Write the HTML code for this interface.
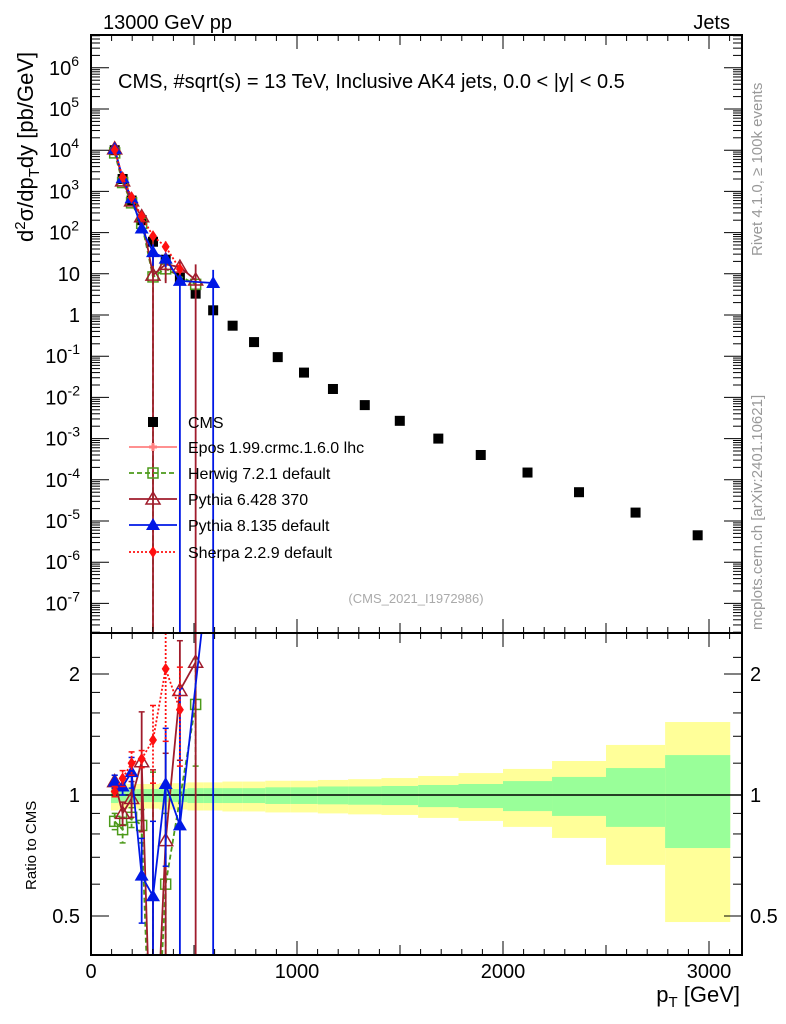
<!DOCTYPE html>
<html><head><meta charset="utf-8"><style>
html,body{margin:0;padding:0;background:#fff;overflow:hidden;width:786px;height:1024px;}
svg{display:block;font-family:"Liberation Sans",sans-serif;}
</style></head><body>
<svg id="c" width="786" height="1024" viewBox="0 0 786 1024" xmlns="http://www.w3.org/2000/svg" overflow="hidden">
<text x="103" y="29" font-size="20">13000 GeV pp</text>
<text x="730" y="29" font-size="20" text-anchor="end">Jets</text>
<text x="118" y="88" font-size="20">CMS, #sqrt(s) = 13 TeV, Inclusive AK4 jets, 0.0 &lt; |y| &lt; 0.5</text>
<text transform="translate(762,256) rotate(-90)" font-size="15" fill="#999">Rivet 4.1.0, ≥ 100k events</text>
<text transform="translate(762,630) rotate(-90)" font-size="15" fill="#999">mcplots.cern.ch [arXiv:2401.10621]</text>
<text x="416" y="603" font-size="13" fill="#aaa" text-anchor="middle">(CMS_2021_I1972986)</text>
<text transform="translate(33,242) rotate(-90)" font-size="22">d<tspan font-size="15" dy="-8">2</tspan><tspan dy="8">σ/dp</tspan><tspan font-size="15" dy="6">T</tspan><tspan dy="-6">dy [pb/GeV]</tspan></text>
<text transform="translate(36,890) rotate(-90)" font-size="15">Ratio to CMS</text>
<text x="740" y="1002" font-size="22" text-anchor="end">p<tspan font-size="15" dy="5">T</tspan><tspan dy="-5"> [GeV]</tspan></text>
<g id="bands"></g><g id="grid"></g><g id="marks"></g><g id="axes"></g><g id="legend"></g>
</svg>
<script>
const NS='http://www.w3.org/2000/svg';
const edges=[97,133,174,220,272,330,395,468,548,638,737,846,967,1101,1248,1410,1588,1784,2000,2238,2500,2787,3103];
const cmsValues=[1.0e4,2.0e3,6.0e2,2.0e2,60,22,8,3.3,1.3,0.55,0.22,0.095,0.04,0.016,0.0065,0.0027,0.001,0.0004,0.00015,5e-5,1.6e-5,4.5e-6];
const bandYellowHi=[1.075,1.07,1.065,1.065,1.065,1.07,1.07,1.075,1.075,1.08,1.08,1.085,1.085,1.09,1.095,1.102,1.115,1.134,1.161,1.215,1.332,1.519];
const bandYellowLo=[0.915,0.92,0.925,0.925,0.925,0.92,0.92,0.915,0.915,0.91,0.91,0.905,0.905,0.90,0.895,0.892,0.877,0.862,0.833,0.782,0.670,0.483];
const bandGreenHi=[1.04,1.035,1.035,1.035,1.035,1.035,1.035,1.04,1.04,1.04,1.04,1.045,1.045,1.05,1.05,1.053,1.059,1.065,1.083,1.109,1.167,1.257];
const bandGreenLo=[0.955,0.96,0.96,0.96,0.96,0.96,0.96,0.955,0.955,0.955,0.955,0.95,0.95,0.948,0.946,0.944,0.933,0.928,0.912,0.887,0.833,0.738];
const herwigRatio=[0.86,0.82,0.88,0.84,0.14,0.60,null,1.68,null];
const herwigErr=[0.04,0.06,0.05,0.08,1,0.3,null,0.5,null];
const py6Ratio=[1.08,0.90,0.98,1.21,0.155,0.77,1.82,2.14,null];
const py6Err=[0.04,0.06,0.1,0.4,1,0.5,0.6,3,null];
const py8Ratio=[1.08,1.05,1.14,0.63,0.56,1.065,0.84,null,4.6];
const py8Err=[0.04,0.05,0.1,0.15,0.3,0.4,1,null,5];
const sherpaRatio=[1.02,1.10,1.20,1.23,1.37,2.06,1.63,null,null];
const sherpaErr=[0.03,0.05,0.08,0.06,0.3,0.7,0.45,null,null];
const xTicks=[0,1000,2000,3000];
const ratioTicks=[0.5,1,2];

const X0=91,X1=742,UT=35,UB=633,LT=633,LB=955;
const xs=v=>X0+v*0.206;
const yu=v=>315-41.2*Math.log10(v);
const yr=r=>795-121*Math.log2(r);
const clampU=y=>Math.max(UT,Math.min(UB,y));
const clampL=y=>Math.max(LT,Math.min(LB,y));
function el(tag,attrs,parent){const e=document.createElementNS(NS,tag);for(const k in attrs)e.setAttribute(k,attrs[k]);parent.appendChild(e);return e;}
const G=id=>document.getElementById(id);
const bands=G('bands'),marks=G('marks'),axes=G('axes'),leg=G('legend');

for(let i=0;i<cmsValues.length;i++){
  const x=xs(edges[i]),w=xs(edges[i+1])-x;
  let r=el('rect',{x:x,y:yr(bandYellowHi[i]),width:w,height:yr(bandYellowLo[i])-yr(bandYellowHi[i]),fill:'#ffff99'},bands);
  
  
  r=el('rect',{x:x,y:yr(bandGreenHi[i]),width:w,height:yr(bandGreenLo[i])-yr(bandGreenHi[i]),fill:'#99ff99'},bands);
  
  
}
let one=el('line',{x1:X0,x2:X1,y1:yr(1),y2:yr(1),stroke:'#000','stroke-width':1.5},bands);



const centers=cmsValues.map((v,i)=>(edges[i]+edges[i+1])/2);

function marker(kind,x,y,col,parent){
  let m;
  if(kind==='sq') m=el('rect',{x:x-5,y:y-5,width:10,height:10,fill:'#000'},parent);
  else if(kind==='osq') m=el('rect',{x:x-5,y:y-5,width:10,height:10,fill:'none',stroke:col,'stroke-width':1.5},parent);
  else if(kind==='otri') m=el('polygon',{points:`${x},${y-7} ${x-7},${y+5} ${x+7},${y+5}`,fill:'none',stroke:col,'stroke-width':1.5},parent);
  else if(kind==='tri') m=el('polygon',{points:`${x},${y-7} ${x-7},${y+5} ${x+7},${y+5}`,fill:col},parent);
  else if(kind==='dia') m=el('polygon',{points:`${x},${y-6} ${x-4},${y} ${x},${y+6} ${x+4},${y}`,fill:col},parent);
  else if(kind==='cross') m=el('path',{d:`M${x-4} ${y}H${x+4}M${x} ${y-4}V${y+4}`,stroke:col,'stroke-width':3},parent);
  return m;
}

for(let i=0;i<cmsValues.length;i++){
  const m=marker('sq',xs(centers[i]),yu(cmsValues[i]),'#000',marks);
  
  
}

const series=[
  {name:'herwig',ratio:herwigRatio,err:herwigErr,col:'#4c9a1a',kind:'osq',dash:'5,3'},
  {name:'pythia6',ratio:py6Ratio,err:py6Err,col:'#a01c2c',kind:'otri',dash:''},
  {name:'pythia8',ratio:py8Ratio,err:py8Err,col:'#0018e6',kind:'tri',dash:''},
  {name:'sherpa',ratio:sherpaRatio,err:sherpaErr,col:'#ff1010',kind:'dia',dash:'2,2'}
];
for(const s of series){
  const gU=el('g',{},marks),gL=el('g',{},marks);
  
  
  
  
  const cu=el('clipPath',{id:'cu'+s.name},gU);el('rect',{x:X0,y:UT,width:X1-X0,height:UB-UT},cu);
  const cl=el('clipPath',{id:'cl'+s.name},gL);el('rect',{x:X0,y:LT,width:X1-X0,height:LB-LT},cl);
  const iu=el('g',{'clip-path':`url(#cu${s.name})`},gU),il=el('g',{'clip-path':`url(#cl${s.name})`},gL);
  let pu=[],pl=[];
  s.ratio.forEach((r,i)=>{
    if(r==null)return;
    const x=xs(centers[i]),v=cmsValues[i]*r;
    pu.push(x+','+yu(v));pl.push(x+','+yr(r));
  });
  el('polyline',{points:pu.join(' '),fill:'none',stroke:s.col,'stroke-width':1.8,'stroke-dasharray':s.dash},iu);
  el('polyline',{points:pl.join(' '),fill:'none',stroke:s.col,'stroke-width':1.8,'stroke-dasharray':s.dash},il);
  s.ratio.forEach((r,i)=>{
    if(r==null)return;
    const x=xs(centers[i]),e=s.err[i],v=cmsValues[i]*r;
    const hi=r+e,lo=r-e;
    const yuh=yu(cmsValues[i]*hi),yul=lo>0?yu(cmsValues[i]*lo):UB;
    const yrh=yr(hi),yrl=lo>0?yr(lo):LB;
    el('line',{x1:x,x2:x,y1:clampU(yuh),y2:Math.min(UB,yul),stroke:s.col,'stroke-width':1.8,'stroke-dasharray':s.dash},iu);
    el('line',{x1:x,x2:x,y1:clampL(yrh),y2:Math.min(LB,yrl),stroke:s.col,'stroke-width':1.8,'stroke-dasharray':s.dash},il);
    [yrh,yrl].forEach(yy=>{if(yy>LT&&yy<LB)el('line',{x1:x-3,x2:x+3,y1:yy,y2:yy,stroke:s.col,'stroke-width':1.5},il);});
    const mu=marker(s.kind,x,yu(v),s.col,iu);
    
    
    const ml=marker(s.kind,x,yr(r),s.col,il);
    
    
  });
}

for(const [t,b,n] of [[UT,UB,'main-frame'],[LT,LB,'ratio-frame']]){
  const r=el('rect',{x:X0,y:t,width:X1-X0,height:b-t,fill:'none',stroke:'#000','stroke-width':2},axes);
  
  
}
for(let v=0;v<=3100;v+=100){
  const x=xs(v),len=v%1000===0?14:(v%500===0?10:6);
  for(const yb of [UB,LB]) el('line',{x1:x,x2:x,y1:yb,y2:yb-len,stroke:'#000','stroke-width':1},axes);
  for(const yt of [UT,LT]) el('line',{x1:x,x2:x,y1:yt,y2:yt+len,stroke:'#000','stroke-width':1},axes);
}
xTicks.forEach(v=>{
  const t=el('text',{x:xs(v),y:978,'font-size':20,'text-anchor':'middle'},axes);t.textContent=v;
  
  
});
for(let d=-8;d<=6;d++){
  for(let k=1;k<10;k++){
    const y=yu(k*Math.pow(10,d));if(y<UT||y>UB)continue;
    const len=k===1?18:9;
    el('line',{x1:X0,x2:X0+len,y1:y,y2:y,stroke:'#000','stroke-width':1},axes);
    el('line',{x1:X1,x2:X1-len,y1:y,y2:y,stroke:'#000','stroke-width':1},axes);
  }
  const y=yu(Math.pow(10,d));if(y<UT||y>UB)continue;
  const t=el('text',{x:80,y:y+7,'font-size':20,'text-anchor':'end'},axes);
  
  
  if(d===0)t.textContent='1';else if(d===1)t.textContent='10';
  else{t.setAttribute('x',d<0?80:79);t.textContent='10';const s=el('tspan',{'font-size':14,dy:-9},t);s.textContent=d;}
}
const minor=[0.4,0.6,0.7,0.8,0.9,1.2,1.4,1.6,1.8,2.2];
minor.forEach(r=>{const y=yr(r);if(y<LT||y>LB)return;
  el('line',{x1:X0,x2:X0+9,y1:y,y2:y,stroke:'#000'},axes);el('line',{x1:X1,x2:X1-9,y1:y,y2:y,stroke:'#000'},axes);});
ratioTicks.forEach(r=>{const y=yr(r);
  el('line',{x1:X0,x2:X0+18,y1:y,y2:y,stroke:'#000'},axes);el('line',{x1:X1,x2:X1-18,y1:y,y2:y,stroke:'#000'},axes);
  let t=el('text',{x:80,y:y+7,'font-size':20,'text-anchor':'end'},axes);t.textContent=r;
  
  
  t=el('text',{x:750,y:y+7,'font-size':20},axes);t.textContent=r;
  
  
});
const legItems=[['CMS','sq','#000',''],['Epos 1.99.crmc.1.6.0 lhc','cross','#ff8080',''],['Herwig 7.2.1 default','osq','#4c9a1a','5,3'],['Pythia 6.428 370','otri','#a01c2c',''],['Pythia 8.135 default','tri','#0018e6',''],['Sherpa 2.2.9 default','dia','#ff1010','2,2']];
const legY=[422,447,473,499,525,552];
legItems.forEach((it,i)=>{
  const g=el('g',{},leg);
  
  
  const y=legY[i];
  if(i>0)el('line',{x1:129,x2:177,y1:y,y2:y,stroke:it[2],'stroke-width':1.8,'stroke-dasharray':it[3]},g);
  marker(it[1],153,y,it[2],g);
  const t=el('text',{x:188,y:y+6,'font-size':16},g);t.textContent=it[0];
});
</script>
</body></html>
